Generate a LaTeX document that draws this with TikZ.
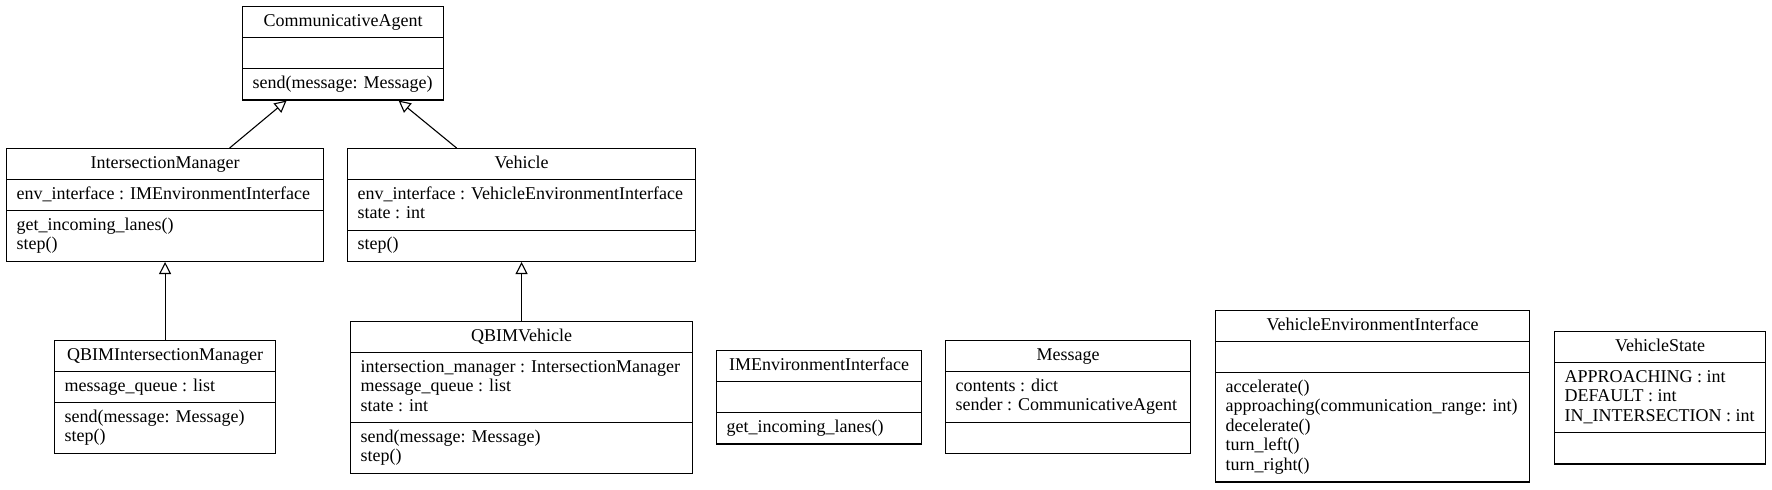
\documentclass[tikz,border=0pt]{standalone}
\usepackage{fontspec}
\setmainfont{Liberation Serif}
\usetikzlibrary{arrows.meta, shapes.multipart}

\tikzset{
  umlclass/.style={draw, rectangle split, rectangle split parts=3,
    rectangle split part align={center,left,left}, align=left,
    inner xsep=5pt, inner ysep=2.6pt, anchor=north west, line width=0.6pt,
    font=\fontsize{9}{9.75}\selectfont},
  inherits/.style={-{Triangle[open,length=6pt,width=6pt]}, line width=0.55pt}
}

\begin{document}
\begin{tikzpicture}[x=0.5pt, y=-0.5pt]

    \useasboundingbox (0,0) rectangle (1772,489);

    % top of the hierarchy
    \node[umlclass, minimum width=100.5pt] (agent) at (242,6)
        {\strut CommunicativeAgent \nodepart{two}\strut \nodepart{three}\strut send(message: Message)};

    % agents
    \node[umlclass, minimum width=158.5pt] (manager) at (6,148)
        {\strut IntersectionManager
         \nodepart{two}\strut env\_interface : IMEnvironmentInterface
         \nodepart{three}\strut get\_incoming\_lanes()\\\strut step()};

    \node[umlclass, minimum width=174pt] (vehicle) at (347,148)
        {\strut Vehicle
         \nodepart{two}\strut env\_interface : VehicleEnvironmentInterface\\\strut state : int
         \nodepart{three}\strut step()};

    % QBIM subclasses
    \node[umlclass, minimum width=110.5pt] (qbimmanager) at (54,340)
        {\strut QBIMIntersectionManager
         \nodepart{two}\strut message\_queue : list
         \nodepart{three}\strut send(message: Message)\\\strut step()};

    \node[umlclass, minimum width=171pt] (qbimvehicle) at (350,321)
        {\strut QBIMVehicle
         \nodepart{two}\strut intersection\_manager : IntersectionManager\\\strut message\_queue : list\\\strut state : int
         \nodepart{three}\strut send(message: Message)\\\strut step()};

    % standalone classes
    \node[umlclass, minimum width=102.5pt] (imenv) at (716,350)
        {\strut IMEnvironmentInterface \nodepart{two}\strut \nodepart{three}\strut get\_incoming\_lanes()};

    \node[umlclass, minimum width=122.5pt] (message) at (945,340)
        {\strut Message
         \nodepart{two}\strut contents : dict\\\strut sender : CommunicativeAgent
         \nodepart{three}\strut};

    \node[umlclass, minimum width=157pt] (vehenv) at (1215,310)
        {\strut VehicleEnvironmentInterface
         \nodepart{two}\strut
         \nodepart{three}\strut accelerate()\\\strut approaching(communication\_range: int)\\\strut decelerate()\\\strut turn\_left()\\\strut turn\_right()};

    \node[umlclass, minimum width=105.5pt] (vehstate) at (1554,331)
        {\strut VehicleState
         \nodepart{two}\strut APPROACHING : int\\\strut DEFAULT : int\\\strut IN\_INTERSECTION : int
         \nodepart{three}\strut};

    % inheritance
    \draw[inherits] ([xshift=32.25pt]manager.north) -- ([xshift=-28.25pt]agent.south);
    \draw[inherits] ([xshift=-32.5pt]vehicle.north) -- ([xshift=27.75pt]agent.south);
    \draw[inherits] (qbimmanager.north) -- (manager.south);
    \draw[inherits] (qbimvehicle.north) -- (vehicle.south);

\end{tikzpicture}
\end{document}
